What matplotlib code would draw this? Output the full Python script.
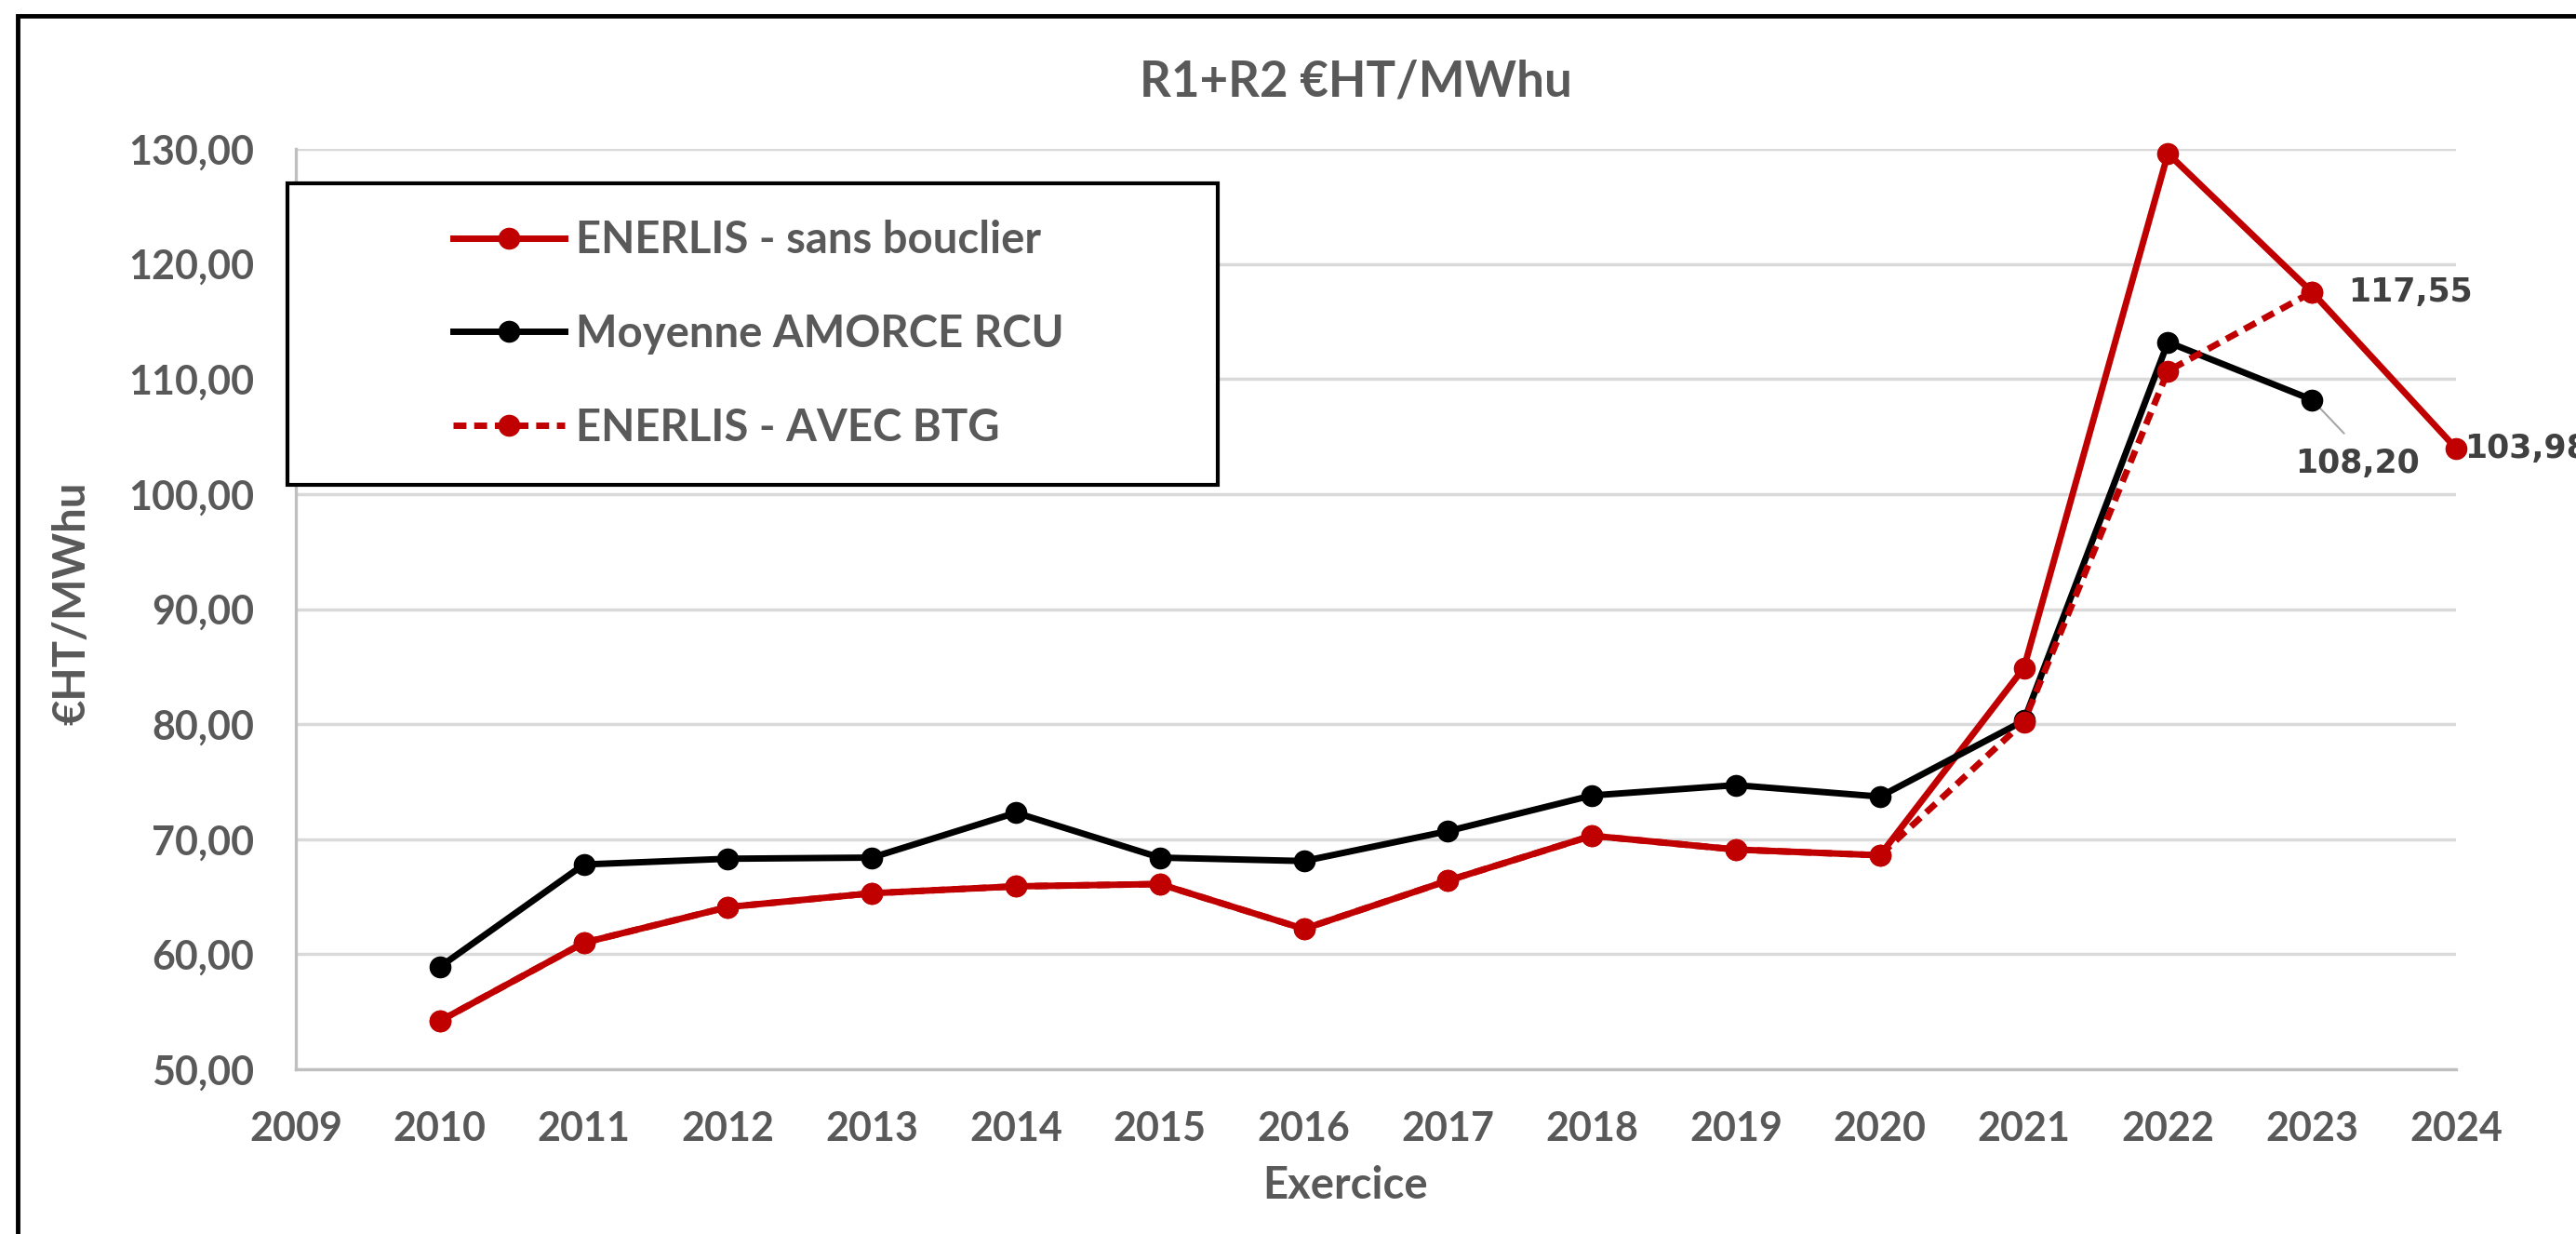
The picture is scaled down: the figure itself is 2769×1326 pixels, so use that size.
import matplotlib.pyplot as plt
from matplotlib.patches import Rectangle

plt.rcParams['font.family'] = ['Lato', 'DejaVu Sans']
plt.rcParams['font.weight'] = 'bold'

W, H, DPI = 2769, 1326, 100
RED = "#C00000"
GREY = "#595959"

# data
years = list(range(2010, 2025))
sans_bouclier = [54.2, 61.0, 64.1, 65.3, 65.9, 66.1, 62.2, 66.4, 70.3, 69.1, 68.6, 84.9, 129.6, 117.55, 103.98]
amorce_rcu = [58.9, 67.8, 68.3, 68.4, 72.3, 68.4, 68.1, 70.7, 73.8, 74.7, 73.7, 80.3, 113.2, 108.20]
avec_btg = [54.2, 61.0, 64.1, 65.3, 65.9, 66.1, 62.2, 66.4, 70.3, 69.1, 68.6, 80.2, 110.7, 117.55]
series_labels = ["ENERLIS - sans bouclier", "Moyenne AMORCE RCU", "ENERLIS - AVEC BTG"]
x_ticks = list(range(2009, 2025))
y_ticks = [50, 60, 70, 80, 90, 100, 110, 120, 130]
y_tick_labels = [f"{v:.2f}".replace(".", ",") for v in y_ticks]


def fmt(v):
    return f"{v:.2f}".replace(".", ",")


fig = plt.figure(figsize=(W / DPI, H / DPI), dpi=DPI)
ax = fig.add_axes([318 / W, 1 - 1149 / H, (2640 - 318) / W, (1149 - 160) / H])

line_kw = dict(lw=5, marker="o", ms=16, clip_on=False)
ax.plot(years, sans_bouclier, color=RED, label=series_labels[0], zorder=3, **line_kw)
ax.plot(years[:len(amorce_rcu)], amorce_rcu, color="black", label=series_labels[1], zorder=4, **line_kw)
ax.plot(years[:len(avec_btg)], avec_btg, color=RED, ls=(0, (2, 1.2)), label=series_labels[2], zorder=5, **line_kw)

ax.set_xlim(x_ticks[0], x_ticks[-1])
ax.set_ylim(y_ticks[0], y_ticks[-1])
ax.set_xticks(x_ticks)
ax.set_yticks(y_ticks, y_tick_labels)
ax.grid(axis="y", color="#d9d9d9", lw=2.5)
ax.set_axisbelow(True)
for s in ["top", "right"]:
    ax.spines[s].set_visible(False)
for s in ["left", "bottom"]:
    ax.spines[s].set_color("#bfbfbf")
    ax.spines[s].set_linewidth(2.4)
ax.tick_params(length=0, pad=32, labelsize=31, labelcolor=GREY)

# data labels
lab_kw = dict(textcoords="offset points", fontsize=25, color="#404040",
              family="DejaVu Sans", weight="bold", va="center")
ax.annotate(fmt(avec_btg[-1]), (years[len(avec_btg) - 1], avec_btg[-1]), xytext=(28, 0), ha="left", **lab_kw)
ax.annotate(fmt(amorce_rcu[-1]), (years[len(amorce_rcu) - 1], amorce_rcu[-1]), xytext=(35, -49), ha="center",
            arrowprops=dict(arrowstyle="-", color="#a6a6a6", lw=1.5, shrinkA=12, shrinkB=9,
                            relpos=(0.5, 1.0)), **lab_kw)
ax.annotate(fmt(sans_bouclier[-1]), (years[-1], sans_bouclier[-1]), xytext=(6.5, 0), ha="left",
            annotation_clip=False, **lab_kw)

# texts
fig.text(1457 / W, 1 - 88 / H, "R1+R2 €HT/MWhu", ha="center", va="center", fontsize=38, color=GREY)
fig.text(77 / W, 1 - 648 / H, "€HT/MWhu", rotation=90, ha="center", va="center", fontsize=34, color=GREY)
fig.text(1446 / W, 1 - 1274 / H, "Exercice", ha="center", va="center", fontsize=34, color=GREY)

# legend box and legend
fig.add_artist(Rectangle((309 / W, 1 - 521 / H), 1000 / W, 324 / H, transform=fig.transFigure,
                         facecolor="white", edgecolor="black", lw=3, zorder=4))
handles, labels = ax.get_legend_handles_labels()
fig.legend(handles, labels, loc="center left", bbox_to_anchor=(487 / W, 1 - 359 / H),
           frameon=False, fontsize=34, labelcolor=GREY, handlelength=2.55, handletextpad=0.25,
           labelspacing=1.2, borderpad=0, borderaxespad=0)

# outer frame, cut by the image border
fig.add_artist(Rectangle((19 / W, -0.5), 2, 0.5 + 1 - 17 / H, transform=fig.transFigure,
                         fill=False, edgecolor="black", lw=3.5, zorder=6))

fig.savefig("out.png", dpi=DPI)
